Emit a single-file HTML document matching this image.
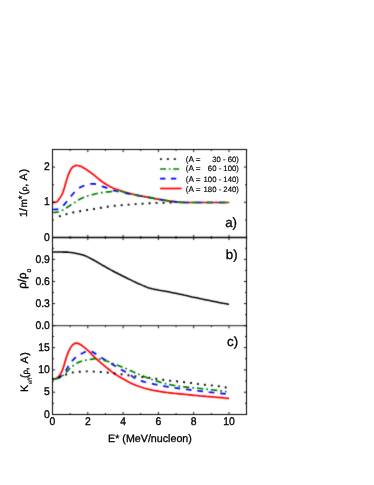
<!DOCTYPE html>
<html><head><meta charset="utf-8"><title>fig</title>
<style>html,body{margin:0;padding:0;background:#fff;width:374px;height:485px;overflow:hidden;font-family:"Liberation Sans",sans-serif}</style></head>
<body>
<svg width="374" height="485" viewBox="0 0 374 485" style="position:absolute;left:0;top:0">
<defs><filter id="sf" x="0" y="0" width="374" height="485" filterUnits="userSpaceOnUse"><feGaussianBlur stdDeviation="0.3"/></filter><filter id="lf" x="0" y="0" width="374" height="485" filterUnits="userSpaceOnUse" color-interpolation-filters="sRGB"><feConvolveMatrix order="3" kernelMatrix="0.02 0.09 0.02 0.09 0.56 0.09 0.02 0.09 0.02" divisor="1" edgeMode="none" preserveAlpha="false"/></filter></defs>
<rect width="374" height="485" fill="#fff"/>
<g fill="none" stroke-linejoin="round" filter="url(#lf)">
<path d="M52.5,202.4 L54.0,202.3 L55.5,202.2 L57.0,201.7 L58.4,200.0 L59.9,197.9 L61.4,195.6 L62.9,192.6 L64.4,187.8 L65.9,182.4 L67.3,177.7 L68.8,173.6 L70.3,170.4 L71.8,168.0 L73.3,166.7 L74.8,165.9 L76.3,165.4 L77.7,165.5 L79.2,165.9 L80.7,166.3 L82.2,167.1 L83.7,167.9 L85.2,168.8 L86.7,169.7 L88.1,170.8 L89.6,171.8 L91.1,172.9 L92.6,174.0 L94.1,175.2 L95.6,176.4 L97.0,177.6 L98.5,178.8 L100.0,180.0 L101.5,181.2 L103.0,182.3 L104.5,183.2 L106.0,184.2 L107.4,185.1 L108.9,186.0 L110.4,186.8 L111.9,187.5 L113.4,188.2 L114.9,188.8 L116.3,189.3 L117.8,189.8 L119.3,190.3 L120.8,190.8 L122.3,191.3 L123.8,191.8 L125.3,192.2 L126.7,192.6 L128.2,193.0 L129.7,193.4 L131.2,193.8 L132.7,194.2 L134.2,194.5 L135.7,194.9 L137.1,195.2 L138.6,195.5 L140.1,195.8 L141.6,196.1 L143.1,196.4 L144.6,196.7 L146.0,196.9 L147.5,197.2 L149.0,197.5 L150.5,197.7 L152.0,198.0 L153.5,198.3 L155.0,198.6 L156.4,198.9 L157.9,199.2 L159.4,199.5 L160.9,199.7 L162.4,200.0 L163.9,200.2 L165.4,200.5 L166.8,200.7 L168.3,200.9 L169.8,201.1 L171.3,201.3 L172.8,201.5 L174.3,201.7 L175.7,201.9 L177.2,202.1 L178.7,202.2 L180.2,202.4 L181.7,202.4 L183.2,202.4 L184.7,202.5 L186.1,202.5 L187.6,202.5 L189.1,202.5 L190.6,202.5 L192.1,202.5 L193.6,202.5 L195.0,202.5 L196.5,202.5 L198.0,202.5 L199.5,202.5 L201.0,202.5 L202.5,202.5 L204.0,202.5 L205.4,202.5 L206.9,202.5 L208.4,202.5 L209.9,202.5 L211.4,202.5 L212.9,202.5 L214.4,202.5 L215.8,202.5 L217.3,202.5 L218.8,202.5 L220.3,202.5 L221.8,202.5 L223.3,202.5 L224.7,202.5 L226.2,202.5 L227.7,202.5 L229.2,202.5" stroke="#ff0000" stroke-width="1.7"/>
<path d="M52.5,209.5 L54.0,209.5 L55.5,209.4 L57.0,209.3 L58.4,209.1 L59.9,208.3 L61.4,207.2 L62.9,205.8 L64.4,204.3 L65.9,202.7 L67.3,201.0 L68.8,199.1 L70.3,197.1 L71.8,195.2 L73.3,193.5 L74.8,191.8 L76.3,190.4 L77.7,189.1 L79.2,188.0 L80.7,187.1 L82.2,186.4 L83.7,185.8 L85.2,185.3 L86.7,184.8 L88.1,184.4 L89.6,184.1 L91.1,183.9 L92.6,183.8 L94.1,183.9 L95.6,184.1 L97.0,184.5 L98.5,185.0 L100.0,185.6 L101.5,186.1 L103.0,186.6 L104.5,187.1 L106.0,187.6 L107.4,188.2 L108.9,188.8 L110.4,189.3 L111.9,189.9 L113.4,190.4 L114.9,190.8 L116.3,191.2 L117.8,191.5 L119.3,191.9 L120.8,192.2 L122.3,192.5 L123.8,192.8 L125.3,193.1 L126.7,193.4 L128.2,193.7 L129.7,193.9 L131.2,194.2 L132.7,194.5 L134.2,194.8 L135.7,195.0 L137.1,195.3 L138.6,195.6 L140.1,195.8 L141.6,196.1 L143.1,196.4 L144.6,196.6 L146.0,196.9 L147.5,197.2 L149.0,197.5 L150.5,197.7 L152.0,198.0 L153.5,198.3 L155.0,198.6 L156.4,198.9 L157.9,199.2 L159.4,199.5 L160.9,199.7 L162.4,200.0 L163.9,200.2 L165.4,200.5 L166.8,200.7 L168.3,200.9 L169.8,201.1 L171.3,201.3 L172.8,201.5 L174.3,201.7 L175.7,201.9 L177.2,202.1 L178.7,202.2 L180.2,202.4 L181.7,202.4 L183.2,202.4 L184.7,202.5 L186.1,202.5 L187.6,202.5 L189.1,202.5 L190.6,202.5 L192.1,202.5 L193.6,202.5 L195.0,202.5 L196.5,202.5 L198.0,202.5 L199.5,202.5 L201.0,202.5 L202.5,202.5 L204.0,202.5 L205.4,202.5 L206.9,202.5 L208.4,202.5 L209.9,202.5 L211.4,202.5 L212.9,202.5 L214.4,202.5 L215.8,202.5 L217.3,202.5 L218.8,202.5 L220.3,202.5 L221.8,202.5 L223.3,202.5 L224.7,202.5 L226.2,202.5 L227.7,202.5 L229.2,202.5" stroke="#0000ff" stroke-width="1.7" stroke-dasharray="5.8 6.1"/>
<path d="M52.5,212.5 L54.0,212.5 L55.5,212.3 L57.0,212.2 L58.4,211.8 L59.9,211.3 L61.4,210.7 L62.9,210.0 L64.4,209.1 L65.9,208.2 L67.3,207.2 L68.8,206.2 L70.3,205.2 L71.8,204.3 L73.3,203.3 L74.8,202.4 L76.3,201.4 L77.7,200.4 L79.2,199.6 L80.7,198.8 L82.2,198.1 L83.7,197.4 L85.2,196.9 L86.7,196.3 L88.1,195.8 L89.6,195.4 L91.1,194.9 L92.6,194.6 L94.1,194.2 L95.6,193.8 L97.0,193.5 L98.5,193.2 L100.0,192.9 L101.5,192.7 L103.0,192.5 L104.5,192.3 L106.0,192.1 L107.4,191.9 L108.9,191.8 L110.4,191.6 L111.9,191.5 L113.4,191.4 L114.9,191.2 L116.3,191.1 L117.8,191.0 L119.3,191.0 L120.8,191.2 L122.3,191.6 L123.8,192.0 L125.3,192.5 L126.7,193.0 L128.2,193.4 L129.7,193.8 L131.2,194.2 L132.7,194.4 L134.2,194.7 L135.7,195.0 L137.1,195.3 L138.6,195.5 L140.1,195.8 L141.6,196.1 L143.1,196.4 L144.6,196.6 L146.0,196.9 L147.5,197.2 L149.0,197.5 L150.5,197.7 L152.0,198.0 L153.5,198.3 L155.0,198.6 L156.4,198.9 L157.9,199.2 L159.4,199.5 L160.9,199.7 L162.4,200.0 L163.9,200.2 L165.4,200.5 L166.8,200.7 L168.3,200.9 L169.8,201.1 L171.3,201.3 L172.8,201.5 L174.3,201.7 L175.7,201.9 L177.2,202.1 L178.7,202.2 L180.2,202.4 L181.7,202.4 L183.2,202.4 L184.7,202.5 L186.1,202.5 L187.6,202.5 L189.1,202.5 L190.6,202.5 L192.1,202.5 L193.6,202.5 L195.0,202.5 L196.5,202.5 L198.0,202.5 L199.5,202.5 L201.0,202.5 L202.5,202.5 L204.0,202.5 L205.4,202.5 L206.9,202.5 L208.4,202.5 L209.9,202.5 L211.4,202.5 L212.9,202.5 L214.4,202.5 L215.8,202.5 L217.3,202.5 L218.8,202.5 L220.3,202.5 L221.8,202.5 L223.3,202.5 L224.7,202.5 L226.2,202.5 L227.7,202.5 L229.2,202.5" stroke="#008000" stroke-width="1.7" stroke-dasharray="6.5 3.1 1.8 3.1"/>
<path d="M54.3,218.0 L55.3,217.7 L56.3,217.4 L57.3,217.1 L58.3,216.7 L59.2,216.4 L60.2,216.1 L61.2,215.8 L62.2,215.4 L63.2,215.1 L64.2,214.7 L65.2,214.4 L66.2,214.2 L67.2,213.9 L68.1,213.7 L69.1,213.4 L70.1,213.2 L71.1,213.0 L72.1,212.7 L73.1,212.5 L74.1,212.3 L75.1,212.1 L76.1,211.9 L77.0,211.8 L78.0,211.6 L79.0,211.4 L80.0,211.2 L81.0,211.0 L82.0,210.8 L83.0,210.7 L84.0,210.5 L85.0,210.4 L86.0,210.2 L86.9,210.0 L87.9,209.9 L88.9,209.7 L89.9,209.6 L90.9,209.4 L91.9,209.3 L92.9,209.1 L93.9,209.0 L94.9,208.8 L95.8,208.7 L96.8,208.5 L97.8,208.3 L98.8,208.2 L99.8,208.0 L100.8,207.8 L101.8,207.7 L102.8,207.5 L103.8,207.3 L104.7,207.2 L105.7,207.0 L106.7,206.8 L107.7,206.7 L108.7,206.5 L109.7,206.4 L110.7,206.2 L111.7,206.1 L112.7,206.0 L113.6,205.9 L114.6,205.8 L115.6,205.7 L116.6,205.6 L117.6,205.5 L118.6,205.4 L119.6,205.3 L120.6,205.2 L121.6,205.2 L122.5,205.1 L123.5,205.0 L124.5,204.9 L125.5,204.9 L126.5,204.8 L127.5,204.7 L128.5,204.6 L129.5,204.6 L130.5,204.5 L131.4,204.4 L132.4,204.3 L133.4,204.3 L134.4,204.2 L135.4,204.1 L136.4,204.1 L137.4,204.0 L138.4,203.9 L139.4,203.9 L140.3,203.8 L141.3,203.7 L142.3,203.7 L143.3,203.6 L144.3,203.5 L145.3,203.5 L146.3,203.4 L147.3,203.4 L148.3,203.3 L149.3,203.3 L150.2,203.2 L151.2,203.2 L152.2,203.1 L153.2,203.1 L154.2,203.0 L155.2,203.0 L156.2,202.9 L157.2,202.9 L158.2,202.9 L159.1,202.8 L160.1,202.8 L161.1,202.8 L162.1,202.7 L163.1,202.7 L164.1,202.7 L165.1,202.6 L166.1,202.6 L167.1,202.6 L168.0,202.6 L169.0,202.6 L170.0,202.5 L171.0,202.5 L172.0,202.5" stroke="#000" stroke-width="1.9" stroke-dasharray="1.9 5.1" stroke-dashoffset="2.15"/>
<path d="M52.5,252.0 L54.0,252.0 L55.5,252.0 L56.9,252.0 L58.4,252.0 L59.9,252.0 L61.4,252.0 L62.9,252.1 L64.4,252.1 L65.8,252.1 L67.3,252.1 L68.8,252.3 L70.3,252.4 L71.8,252.6 L73.3,252.9 L74.7,253.1 L76.2,253.4 L77.7,253.7 L79.2,254.0 L80.7,254.4 L82.2,254.8 L83.6,255.3 L85.1,255.8 L86.6,256.4 L88.1,257.1 L89.6,257.9 L91.1,258.7 L92.5,259.5 L94.0,260.3 L95.5,261.1 L97.0,262.0 L98.5,262.9 L100.0,263.7 L101.4,264.6 L102.9,265.5 L104.4,266.3 L105.9,267.1 L107.4,268.0 L108.9,268.8 L110.3,269.6 L111.8,270.4 L113.3,271.2 L114.8,272.0 L116.3,272.7 L117.8,273.5 L119.2,274.3 L120.7,275.0 L122.2,275.8 L123.7,276.5 L125.2,277.2 L126.7,278.0 L128.1,278.7 L129.6,279.4 L131.1,280.1 L132.6,280.9 L134.1,281.6 L135.6,282.3 L137.0,283.0 L138.5,283.7 L140.0,284.3 L141.5,284.9 L143.0,285.6 L144.5,286.2 L145.9,286.8 L147.4,287.4 L148.9,287.9 L150.4,288.3 L151.9,288.7 L153.4,289.0 L154.8,289.4 L156.3,289.6 L157.8,289.9 L159.3,290.2 L160.8,290.4 L162.3,290.7 L163.7,290.9 L165.2,291.2 L166.7,291.5 L168.2,291.8 L169.7,292.1 L171.2,292.4 L172.6,292.7 L174.1,293.0 L175.6,293.3 L177.1,293.6 L178.6,293.9 L180.1,294.2 L181.5,294.5 L183.0,294.8 L184.5,295.2 L186.0,295.5 L187.5,295.8 L189.0,296.2 L190.4,296.5 L191.9,296.9 L193.4,297.2 L194.9,297.5 L196.4,297.8 L197.9,298.1 L199.3,298.4 L200.8,298.8 L202.3,299.1 L203.8,299.4 L205.3,299.7 L206.8,300.0 L208.2,300.3 L209.7,300.6 L211.2,300.9 L212.7,301.2 L214.2,301.5 L215.7,301.8 L217.1,302.1 L218.6,302.4 L220.1,302.7 L221.6,303.0 L223.1,303.3 L224.6,303.5 L226.0,303.8 L227.5,304.1 L229.0,304.4" stroke="#000" stroke-width="1.55"/>
<path d="M52.6,378.9 L54.1,378.8 L55.6,378.6 L57.0,377.9 L58.5,376.8 L60.0,374.9 L61.5,372.1 L63.0,368.7 L64.5,363.8 L65.9,358.7 L67.4,354.4 L68.9,350.8 L70.4,347.9 L71.9,345.6 L73.4,344.3 L74.8,343.4 L76.3,343.1 L77.8,343.4 L79.3,343.9 L80.8,344.8 L82.3,345.8 L83.7,346.9 L85.2,348.1 L86.7,349.4 L88.2,350.7 L89.7,352.1 L91.2,353.7 L92.6,355.2 L94.1,356.8 L95.6,358.2 L97.1,359.5 L98.6,360.8 L100.1,362.1 L101.5,363.4 L103.0,364.6 L104.5,365.8 L106.0,367.1 L107.5,368.3 L109.0,369.5 L110.4,370.7 L111.9,371.9 L113.4,373.0 L114.9,374.0 L116.4,374.9 L117.9,375.9 L119.3,376.8 L120.8,377.6 L122.3,378.5 L123.8,379.3 L125.3,380.1 L126.8,380.9 L128.2,381.7 L129.7,382.5 L131.2,383.2 L132.7,383.9 L134.2,384.6 L135.7,385.2 L137.1,385.7 L138.6,386.3 L140.1,386.8 L141.6,387.3 L143.1,387.7 L144.6,388.2 L146.0,388.6 L147.5,389.0 L149.0,389.4 L150.5,389.7 L152.0,390.1 L153.5,390.4 L154.9,390.7 L156.4,390.9 L157.9,391.2 L159.4,391.5 L160.9,391.7 L162.4,391.9 L163.8,392.1 L165.3,392.3 L166.8,392.5 L168.3,392.7 L169.8,392.9 L171.3,393.1 L172.7,393.2 L174.2,393.4 L175.7,393.5 L177.2,393.6 L178.7,393.8 L180.2,393.9 L181.6,394.1 L183.1,394.2 L184.6,394.3 L186.1,394.5 L187.6,394.6 L189.1,394.8 L190.5,394.9 L192.0,395.1 L193.5,395.3 L195.0,395.4 L196.5,395.5 L198.0,395.7 L199.4,395.8 L200.9,396.0 L202.4,396.1 L203.9,396.2 L205.4,396.3 L206.9,396.5 L208.3,396.6 L209.8,396.7 L211.3,396.8 L212.8,396.9 L214.3,397.0 L215.8,397.2 L217.2,397.3 L218.7,397.4 L220.2,397.6 L221.7,397.7 L223.2,397.8 L224.7,398.0 L226.1,398.1 L227.6,398.3 L229.1,398.4" stroke="#ff0000" stroke-width="1.7"/>
<path d="M52.6,379.0 L54.1,378.9 L55.5,378.8 L57.0,378.5 L58.5,377.9 L59.9,377.0 L61.4,375.8 L62.9,374.5 L64.3,372.9 L65.8,370.6 L67.3,368.1 L68.7,365.6 L70.2,363.2 L71.7,361.4 L73.1,359.9 L74.6,358.4 L76.0,357.0 L77.5,355.9 L79.0,354.9 L80.4,354.1 L81.9,353.4 L83.4,352.7 L84.8,352.0 L86.3,351.5 L87.8,351.2 L89.2,351.0 L90.7,351.1 L92.2,351.7 L93.6,352.5 L95.1,353.5 L96.6,354.6 L98.0,355.7 L99.5,356.6 L101.0,357.4 L102.4,358.3 L103.9,359.2 L105.4,360.1 L106.8,360.9 L108.3,361.8 L109.8,362.7 L111.2,363.6 L112.7,364.5 L114.2,365.4 L115.6,366.2 L117.1,367.1 L118.5,368.0 L120.0,368.9 L121.5,369.7 L122.9,370.5 L124.4,371.3 L125.9,372.2 L127.3,373.0 L128.8,373.9 L130.3,374.8 L131.7,375.9 L133.2,377.1 L134.7,378.1 L136.1,379.0 L137.6,379.6 L139.1,380.1 L140.5,380.7 L142.0,381.1 L143.5,381.6 L144.9,382.0 L146.4,382.3 L147.9,382.7 L149.3,383.0 L150.8,383.4 L152.3,383.7 L153.7,384.1 L155.2,384.4 L156.7,384.7 L158.1,385.0 L159.6,385.4 L161.1,385.6 L162.5,385.9 L164.0,386.2 L165.4,386.5 L166.9,386.7 L168.4,386.9 L169.8,387.2 L171.3,387.4 L172.8,387.6 L174.2,387.8 L175.7,388.0 L177.2,388.2 L178.6,388.4 L180.1,388.6 L181.6,388.8 L183.0,388.9 L184.5,389.1 L186.0,389.3 L187.4,389.5 L188.9,389.7 L190.4,389.9 L191.8,390.1 L193.3,390.3 L194.8,390.4 L196.2,390.6 L197.7,390.8 L199.2,391.0 L200.6,391.1 L202.1,391.3 L203.6,391.5 L205.0,391.7 L206.5,391.8 L207.9,392.0 L209.4,392.2 L210.9,392.3 L212.3,392.5 L213.8,392.6 L215.3,392.8 L216.7,393.0 L218.2,393.1 L219.7,393.3 L221.1,393.4 L222.6,393.6 L224.1,393.7 L225.5,393.9 L227.0,394.0" stroke="#0000ff" stroke-width="1.7" stroke-dasharray="5.6 5.9" stroke-dashoffset="6.8"/>
<path d="M52.6,379.0 L54.1,378.9 L55.5,378.8 L57.0,378.6 L58.4,378.2 L59.9,377.5 L61.4,376.6 L62.8,375.6 L64.3,374.4 L65.8,372.9 L67.2,371.3 L68.7,369.7 L70.1,368.2 L71.6,366.9 L73.1,365.8 L74.5,364.7 L76.0,363.7 L77.4,362.9 L78.9,362.1 L80.4,361.6 L81.8,361.2 L83.3,360.8 L84.7,360.4 L86.2,360.1 L87.7,359.9 L89.1,359.6 L90.6,359.4 L92.1,359.1 L93.5,358.9 L95.0,358.6 L96.4,358.5 L97.9,358.6 L99.4,358.9 L100.8,359.3 L102.3,359.7 L103.7,360.1 L105.2,360.6 L106.7,361.0 L108.1,361.5 L109.6,362.1 L111.1,362.6 L112.5,363.2 L114.0,363.8 L115.4,364.4 L116.9,365.0 L118.4,365.5 L119.8,366.1 L121.3,366.7 L122.7,367.3 L124.2,367.9 L125.7,368.5 L127.1,369.2 L128.6,369.8 L130.1,370.5 L131.5,371.1 L133.0,371.8 L134.4,372.4 L135.9,373.1 L137.4,373.7 L138.8,374.3 L140.3,374.9 L141.7,375.5 L143.2,376.1 L144.7,376.7 L146.1,377.3 L147.6,377.9 L149.0,378.4 L150.5,378.9 L152.0,379.5 L153.4,380.0 L154.9,380.5 L156.4,380.9 L157.8,381.4 L159.3,381.9 L160.7,382.4 L162.2,382.8 L163.7,383.2 L165.1,383.6 L166.6,384.0 L168.0,384.3 L169.5,384.6 L171.0,384.9 L172.4,385.1 L173.9,385.4 L175.4,385.6 L176.8,385.9 L178.3,386.1 L179.7,386.3 L181.2,386.5 L182.7,386.7 L184.1,386.9 L185.6,387.1 L187.0,387.2 L188.5,387.4 L190.0,387.5 L191.4,387.7 L192.9,387.8 L194.4,387.9 L195.8,388.1 L197.3,388.2 L198.7,388.3 L200.2,388.5 L201.7,388.7 L203.1,388.8 L204.6,389.0 L206.0,389.1 L207.5,389.3 L209.0,389.4 L210.4,389.6 L211.9,389.8 L213.3,390.0 L214.8,390.1 L216.3,390.3 L217.7,390.5 L219.2,390.7 L220.7,390.9 L222.1,391.1 L223.6,391.3 L225.0,391.5 L226.5,391.7" stroke="#008000" stroke-width="1.7" stroke-dasharray="6.3 3.0 1.75 3.0" stroke-dashoffset="12.9"/>
<path d="M52.6,379.0 L54.1,378.7 L55.5,378.4 L57.0,378.1 L58.5,377.6 L60.0,377.2 L61.4,376.6 L62.9,375.9 L64.4,375.2 L65.9,374.6 L67.3,374.1 L68.8,373.6 L70.3,373.1 L71.8,372.7 L73.2,372.4 L74.7,372.3 L76.2,372.1 L77.7,371.9 L79.1,371.8 L80.6,371.7 L82.1,371.6 L83.6,371.5 L85.0,371.4 L86.5,371.4 L88.0,371.4 L89.4,371.4 L90.9,371.5 L92.4,371.5 L93.9,371.6 L95.3,371.6 L96.8,371.7 L98.3,371.8 L99.8,371.9 L101.2,372.0 L102.7,372.1 L104.2,372.2 L105.7,372.4 L107.1,372.5 L108.6,372.7 L110.1,372.9 L111.6,373.0 L113.0,373.2 L114.5,373.4 L116.0,373.6 L117.5,373.8 L118.9,374.0 L120.4,374.2 L121.9,374.4 L123.3,374.6 L124.8,374.9 L126.3,375.1 L127.8,375.3 L129.2,375.5 L130.7,375.7 L132.2,375.9 L133.7,376.1 L135.1,376.2 L136.6,376.4 L138.1,376.6 L139.6,376.7 L141.0,376.9 L142.5,377.1 L144.0,377.2 L145.5,377.4 L146.9,377.6 L148.4,377.7 L149.9,377.9 L151.4,378.1 L152.8,378.3 L154.3,378.5 L155.8,378.7 L157.3,378.9 L158.7,379.2 L160.2,379.4 L161.7,379.6 L163.1,379.8 L164.6,380.0 L166.1,380.2 L167.6,380.4 L169.0,380.6 L170.5,380.8 L172.0,380.9 L173.5,381.1 L174.9,381.2 L176.4,381.3 L177.9,381.5 L179.4,381.6 L180.8,381.7 L182.3,381.9 L183.8,382.1 L185.3,382.2 L186.7,382.4 L188.2,382.6 L189.7,382.8 L191.2,383.0 L192.6,383.3 L194.1,383.5 L195.6,383.7 L197.0,383.9 L198.5,384.1 L200.0,384.3 L201.5,384.4 L202.9,384.6 L204.4,384.7 L205.9,384.9 L207.4,385.0 L208.8,385.1 L210.3,385.3 L211.8,385.4 L213.3,385.6 L214.7,385.7 L216.2,385.9 L217.7,386.1 L219.2,386.3 L220.6,386.5 L222.1,386.8 L223.6,387.0 L225.1,387.3 L226.5,387.5 L228.0,387.8" stroke="#000" stroke-width="1.9" stroke-dasharray="1.9 5.1" stroke-dashoffset="0.65"/>
</g>
<g stroke="#000" fill="none" filter="url(#lf)">
<rect x="52.5" y="149.5" width="194.0" height="265.0" stroke-width="1"/>
<line x1="52.5" x2="246.5" y1="237.5" y2="237.5" stroke-width="1.6"/>
<line x1="52.5" x2="246.5" y1="325.7" y2="325.7" stroke-width="0.9"/>
<path d="M52.50,149.50V152.10M70.15,149.50V151.00M87.80,149.50V152.10M105.45,149.50V151.00M123.10,149.50V152.10M140.75,149.50V151.00M158.40,149.50V152.10M176.05,149.50V151.00M193.70,149.50V152.10M211.35,149.50V151.00M229.00,149.50V152.10M246.65,149.50V151.00M52.50,234.90V240.10M70.15,236.00V239.00M87.80,234.90V240.10M105.45,236.00V239.00M123.10,234.90V240.10M140.75,236.00V239.00M158.40,234.90V240.10M176.05,236.00V239.00M193.70,234.90V240.10M211.35,236.00V239.00M229.00,234.90V240.10M246.65,236.00V239.00M52.50,325.70V328.30M70.15,325.70V327.20M87.80,325.70V328.30M105.45,325.70V327.20M123.10,325.70V328.30M140.75,325.70V327.20M158.40,325.70V328.30M176.05,325.70V327.20M193.70,325.70V328.30M211.35,325.70V327.20M229.00,325.70V328.30M246.65,325.70V327.20M52.50,411.90V414.50M70.15,413.00V414.50M87.80,411.90V414.50M105.45,413.00V414.50M123.10,411.90V414.50M140.75,413.00V414.50M158.40,411.90V414.50M176.05,413.00V414.50M193.70,411.90V414.50M211.35,413.00V414.50M229.00,411.90V414.50M246.65,413.00V414.50M52.5,237.50h2.6M246.5,237.50h-2.6M52.5,219.90h1.5M246.5,219.90h-1.5M52.5,202.30h2.6M246.5,202.30h-2.6M52.5,184.70h1.5M246.5,184.70h-1.5M52.5,167.10h2.6M246.5,167.10h-2.6M52.5,325.70h2.6M246.5,325.70h-2.6M52.5,314.64h1.5M246.5,314.64h-1.5M52.5,303.59h2.6M246.5,303.59h-2.6M52.5,292.53h1.5M246.5,292.53h-1.5M52.5,281.48h2.6M246.5,281.48h-2.6M52.5,270.42h1.5M246.5,270.42h-1.5M52.5,259.37h2.6M246.5,259.37h-2.6M52.5,248.31h1.5M246.5,248.31h-1.5M52.5,414.50h2.6M246.5,414.50h-2.6M52.5,403.35h1.5M246.5,403.35h-1.5M52.5,392.20h2.6M246.5,392.20h-2.6M52.5,381.05h1.5M246.5,381.05h-1.5M52.5,369.90h2.6M246.5,369.90h-2.6M52.5,358.75h1.5M246.5,358.75h-1.5M52.5,347.60h2.6M246.5,347.60h-2.6M52.5,336.45h1.5M246.5,336.45h-1.5" stroke-width="0.9"/>
</g>
<g font-family="Liberation Sans, sans-serif" fill="#000" stroke="#000" stroke-width="0.3" text-rendering="geometricPrecision" filter="url(#sf)">
<text transform="translate(49.90,240.65) scale(1,1.07)" font-size="10.4" text-anchor="end">0</text>
<text transform="translate(49.90,205.45) scale(1,1.07)" font-size="10.4" text-anchor="end">1</text>
<text transform="translate(49.90,170.25) scale(1,1.07)" font-size="10.4" text-anchor="end">2</text>
<text transform="translate(49.90,328.85) scale(1,1.07)" font-size="10.4" text-anchor="end">0.0</text>
<text transform="translate(49.90,306.74) scale(1,1.07)" font-size="10.4" text-anchor="end">0.3</text>
<text transform="translate(49.90,284.63) scale(1,1.07)" font-size="10.4" text-anchor="end">0.6</text>
<text transform="translate(49.90,262.52) scale(1,1.07)" font-size="10.4" text-anchor="end">0.9</text>
<text transform="translate(49.90,417.65) scale(1,1.07)" font-size="10.4" text-anchor="end">0</text>
<text transform="translate(49.90,395.35) scale(1,1.07)" font-size="10.4" text-anchor="end">5</text>
<text transform="translate(49.90,373.05) scale(1,1.07)" font-size="10.4" text-anchor="end">10</text>
<text transform="translate(49.90,350.75) scale(1,1.07)" font-size="10.4" text-anchor="end">15</text>
<text transform="translate(52.50,425.00) scale(1,1.07)" font-size="10.4" text-anchor="middle">0</text>
<text transform="translate(87.80,425.00) scale(1,1.07)" font-size="10.4" text-anchor="middle">2</text>
<text transform="translate(123.10,425.00) scale(1,1.07)" font-size="10.4" text-anchor="middle">4</text>
<text transform="translate(158.40,425.00) scale(1,1.07)" font-size="10.4" text-anchor="middle">6</text>
<text transform="translate(193.70,425.00) scale(1,1.07)" font-size="10.4" text-anchor="middle">8</text>
<text transform="translate(229.00,425.00) scale(1,1.07)" font-size="10.4" text-anchor="middle">10</text>
<text x="150" y="442.20" font-size="10.7" text-anchor="middle">E* (MeV/nucleon)</text>
<text x="237.0" y="227.20" font-size="13.3" text-anchor="end">a)</text>
<text x="237.6" y="259.10" font-size="13.3" text-anchor="end">b)</text>
<text x="238.1" y="345.80" font-size="13.3" text-anchor="end">c)</text>
<text transform="translate(26.5,214.0) rotate(-90)" font-size="10.6" text-anchor="middle">1</text>
<text transform="translate(26.5,209.85) rotate(-90)" font-size="10.6" text-anchor="middle">/</text>
<text transform="translate(26.5,203.4) rotate(-90)" font-size="10.0" text-anchor="middle">m</text>
<text transform="translate(24.5,197.5) rotate(-90)" font-size="9.5" text-anchor="middle">*</text>
<text transform="translate(26.5,193.2) rotate(-90)" font-size="10.8" text-anchor="middle">(</text>
<text transform="translate(26.5,188.9) rotate(-90)" font-size="8.2" text-anchor="middle">ρ</text>
<text transform="translate(26.5,185.3) rotate(-90)" font-size="10.6" text-anchor="middle">,</text>
<text transform="translate(26.5,176.95) rotate(-90)" font-size="10.6" text-anchor="middle">A</text>
<text transform="translate(26.5,170.8) rotate(-90)" font-size="10.8" text-anchor="middle">)</text>
<text transform="translate(26.4,288.7) rotate(-90)" font-size="11.5">ρ/ρ<tspan font-size="7" dy="4.8">o</tspan></text>
<text transform="translate(27.8,388.3) rotate(-90)" font-size="10.8" text-anchor="middle">K</text>
<text transform="translate(32.0,380.9) rotate(-90)" font-size="6.2" text-anchor="middle" stroke-width="0.1" font-style="italic">eff</text>
<text transform="translate(27.8,376.2) rotate(-90)" font-size="10.8" text-anchor="middle">(</text>
<text transform="translate(27.8,372.2) rotate(-90)" font-size="8.2" text-anchor="middle">ρ</text>
<text transform="translate(27.8,368.7) rotate(-90)" font-size="10.6" text-anchor="middle">,</text>
<text transform="translate(27.8,360.0) rotate(-90)" font-size="10.6" text-anchor="middle">A</text>
<text transform="translate(27.8,354) rotate(-90)" font-size="10.8" text-anchor="middle">)</text>
<text x="185.8" y="161.9" font-size="8.2" stroke-width="0.15">(A =</text>
<text x="238.9" y="161.9" font-size="7.75" stroke-width="0.15" text-anchor="end">30 - 60)</text>
<text x="185.8" y="171.2" font-size="8.2" stroke-width="0.15">(A =</text>
<text x="238.9" y="171.2" font-size="7.75" stroke-width="0.15" text-anchor="end">60 - 100)</text>
<text x="185.8" y="181.5" font-size="8.2" stroke-width="0.15">(A =</text>
<text x="238.9" y="181.5" font-size="7.75" stroke-width="0.15" text-anchor="end">100 - 140)</text>
<text x="185.8" y="192.1" font-size="8.2" stroke-width="0.15">(A =</text>
<text x="238.9" y="192.1" font-size="7.75" stroke-width="0.15" text-anchor="end">180 - 240)</text>
</g>
<g fill="none" filter="url(#lf)">
<path d="M160.1,159.1H178" stroke="#000" stroke-width="1.9" stroke-dasharray="1.9 5.05" stroke-dashoffset="0.15"/>
<path d="M160.1,169.0H179.1" stroke="#008000" stroke-width="1.7" stroke-dasharray="5.9 2.8 1.6 2.8"/>
<path d="M160.1,178.7H179" stroke="#0000ff" stroke-width="1.7" stroke-dasharray="5.3 5.6"/>
<path d="M160.1,188.5H181.7" stroke="#ff0000" stroke-width="1.7"/>
</g>
</svg>
</body></html>
